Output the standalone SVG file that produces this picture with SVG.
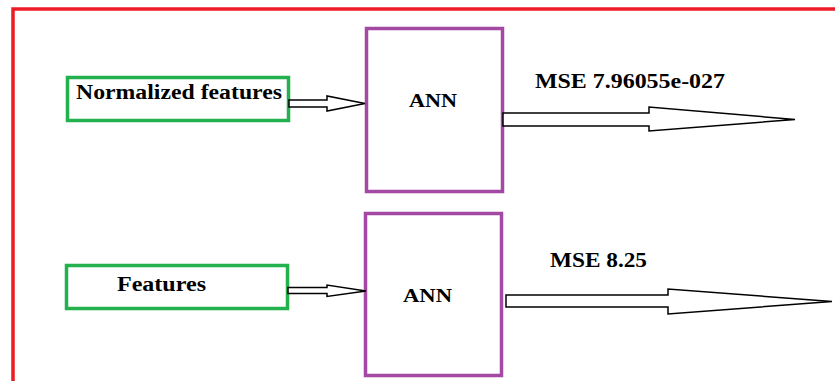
<svg xmlns="http://www.w3.org/2000/svg" width="835" height="381" viewBox="0 0 835 381">
<style>
  .in { fill: #ffffff; stroke: #22b14c; stroke-width: 3.5; }
  .ann { fill: #ffffff; stroke: #a349a4; stroke-width: 3.5; }
  .lbl { font-family: "Liberation Serif", "Times New Roman", serif; font-weight: bold; font-size: 20px; fill: #000000; }
  .arrow { fill: #ffffff; stroke: #000000; stroke-width: 1.5; stroke-linejoin: miter; }
</style>
<rect x="0" y="0" width="835" height="381" fill="#ffffff"/>
<rect x="13" y="9" width="900" height="500" fill="none" stroke="#ed1c24" stroke-width="3.5"/>

<g id="node-normalized-features">
  <rect class="in" x="67.5" y="77.5" width="221" height="43"/>
  <text class="lbl" x="76" y="99" textLength="206" lengthAdjust="spacingAndGlyphs">Normalized features</text>
</g>
<g id="node-ann-top">
  <rect class="ann" x="366.5" y="28.5" width="136" height="163"/>
  <text class="lbl" x="409" y="107" font-size="18" style="font-size:18px" textLength="48" lengthAdjust="spacingAndGlyphs">ANN</text>
</g>
<g id="node-features">
  <rect class="in" x="66.5" y="265.5" width="221" height="43"/>
  <text class="lbl" x="117" y="291" textLength="89" lengthAdjust="spacingAndGlyphs">Features</text>
</g>
<g id="node-ann-bottom">
  <rect class="ann" x="365.5" y="213.5" width="136" height="162"/>
  <text class="lbl" x="403" y="302" style="font-size:18px" textLength="49" lengthAdjust="spacingAndGlyphs">ANN</text>
</g>

<g id="connectors">
  <polygon class="arrow" points="289,100 327,100 327,96 365,103.5 327,111 327,107 289,107"/>
  <polygon class="arrow" points="503,113 649,113 649,107 795,119.5 649,131 649,126 503,126"/>
  <polygon class="arrow" points="288,287.5 327,287.5 327,285 366,291 327,296.5 327,293.5 288,293.5"/>
  <polygon class="arrow" points="506,295 668,295 668,289 832,301.5 668,314 668,307 506,307"/>
  <text class="lbl" x="535" y="88" textLength="190" lengthAdjust="spacingAndGlyphs">MSE 7.96055e-027</text>
  <text class="lbl" x="550" y="267" textLength="97" lengthAdjust="spacingAndGlyphs">MSE 8.25</text>
</g>
</svg>
